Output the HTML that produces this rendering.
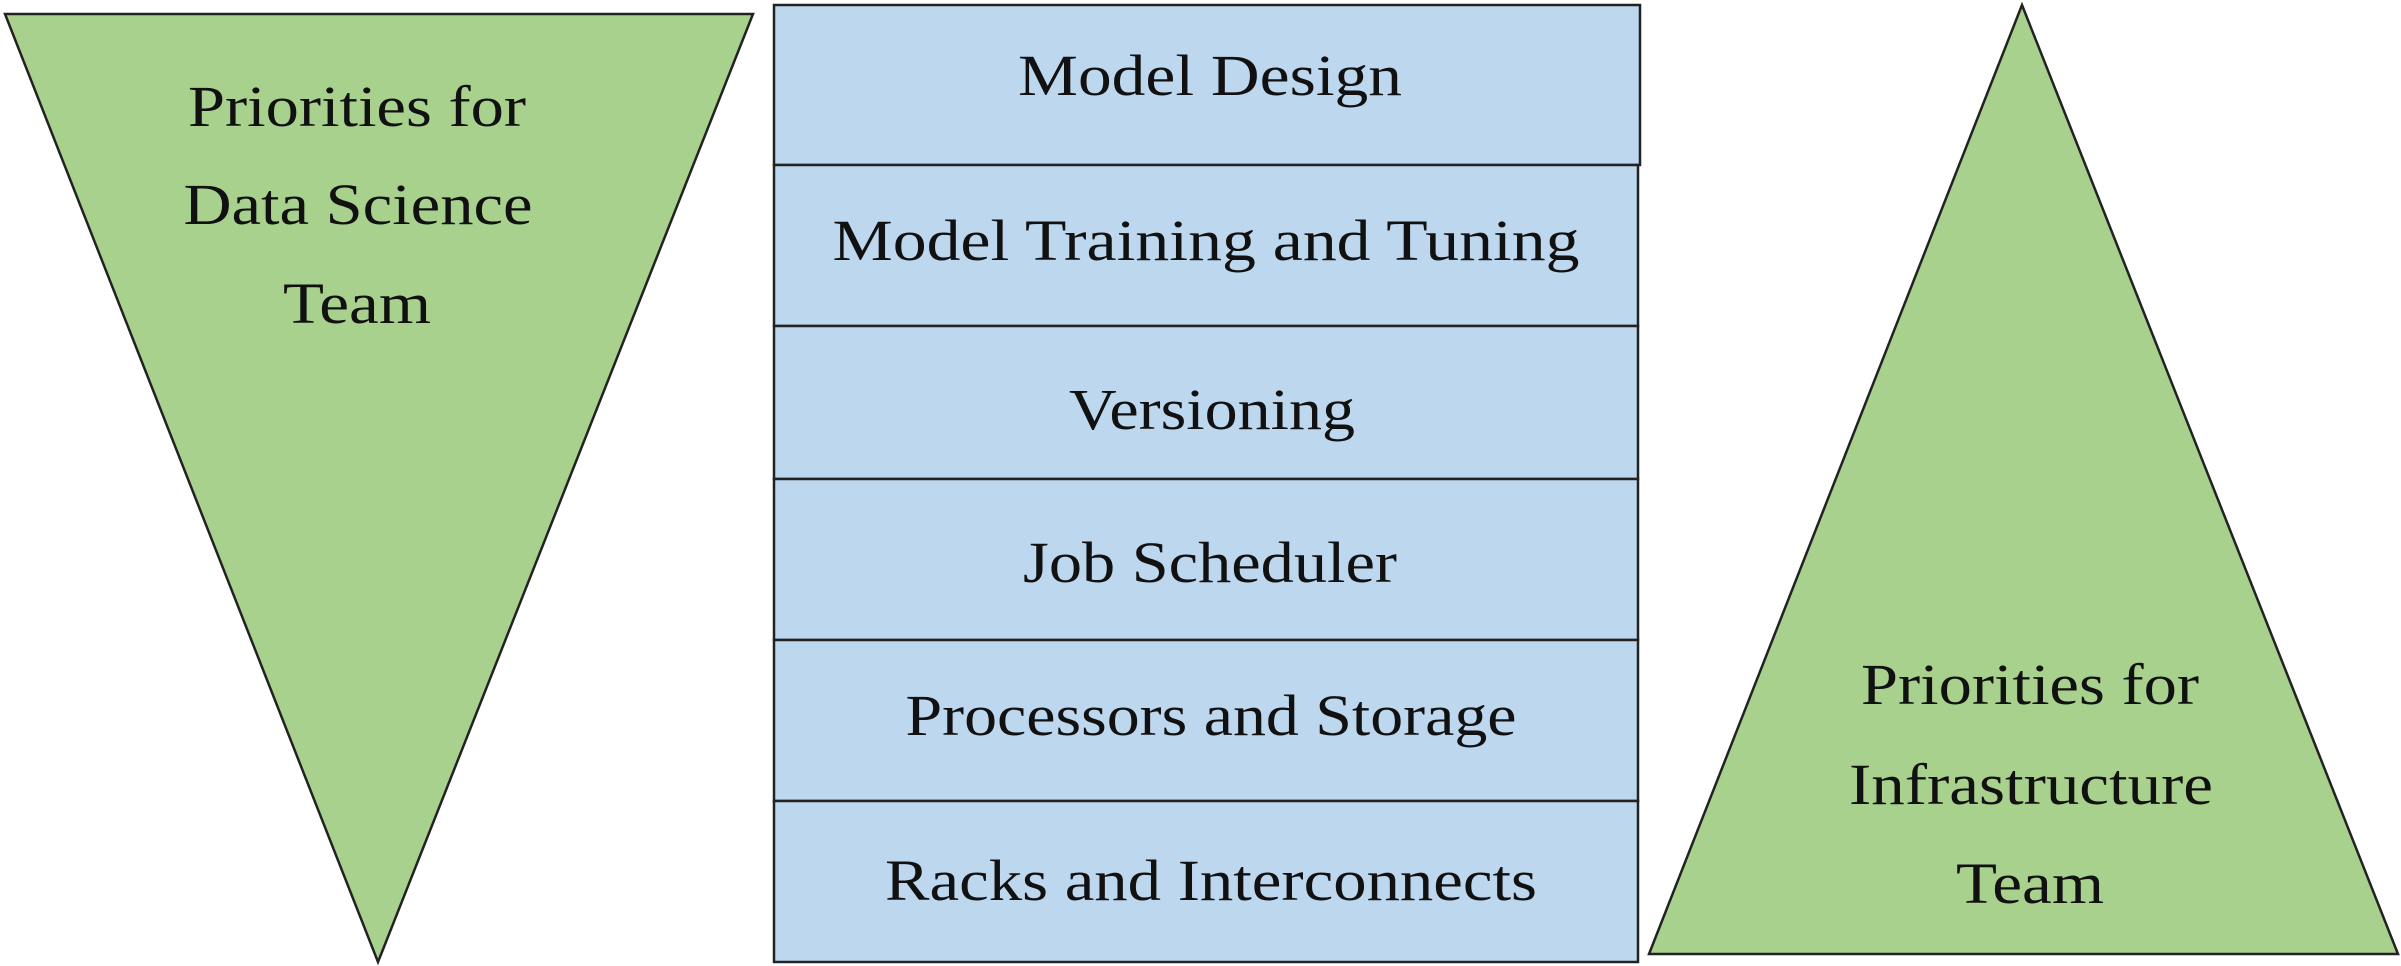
<!DOCTYPE html>
<html><head><meta charset="utf-8"><style>
html,body{margin:0;padding:0;background:#fff;}
svg{display:block;}
text{font-family:"Liberation Serif",serif;font-size:58px;fill:#111;text-anchor:middle;}
</style></head><body>
<svg width="2401" height="966" viewBox="0 0 2401 966" xmlns="http://www.w3.org/2000/svg">
<polygon points="5,14 753,14 378,962" fill="#a9d18e" stroke="#222" stroke-width="2.5"/>
<polygon points="2022,5 2398,954 1649,954" fill="#a9d18e" stroke="#222" stroke-width="2.5"/>
<g fill="#bdd7ee" stroke="#222" stroke-width="2.5">
<rect x="774" y="5" width="866" height="160"/>
<rect x="774" y="165" width="864" height="161"/>
<rect x="774" y="326" width="864" height="153"/>
<rect x="774" y="479" width="864" height="161"/>
<rect x="774" y="640" width="864" height="161"/>
<rect x="774" y="801" width="864" height="161"/>
</g>
<text x="1210" y="95" textLength="384" lengthAdjust="spacingAndGlyphs">Model Design</text>
<text x="1206" y="260" textLength="747" lengthAdjust="spacingAndGlyphs">Model Training and Tuning</text>
<text x="1212" y="429" textLength="286" lengthAdjust="spacingAndGlyphs">Versioning</text>
<text x="1210" y="582" textLength="374" lengthAdjust="spacingAndGlyphs">Job Scheduler</text>
<text x="1211" y="735" textLength="611" lengthAdjust="spacingAndGlyphs">Processors and Storage</text>
<text x="1211" y="900" textLength="652" lengthAdjust="spacingAndGlyphs">Racks and Interconnects</text>
<text x="357" y="126" textLength="338" lengthAdjust="spacingAndGlyphs">Priorities for</text>
<text x="358" y="224" textLength="349" lengthAdjust="spacingAndGlyphs">Data Science</text>
<text x="357" y="323" textLength="148" lengthAdjust="spacingAndGlyphs">Team</text>
<text x="2030" y="704" textLength="338" lengthAdjust="spacingAndGlyphs">Priorities for</text>
<text x="2031" y="804" textLength="364" lengthAdjust="spacingAndGlyphs">Infrastructure</text>
<text x="2030" y="903" textLength="148" lengthAdjust="spacingAndGlyphs">Team</text>
</svg>
</body></html>
